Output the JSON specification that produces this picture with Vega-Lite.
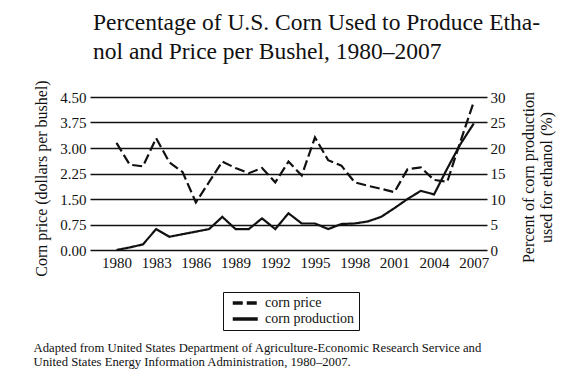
{
  "$schema": "https://vega.github.io/schema/vega-lite/v6.json",
  "width": 397,
  "height": 153,
  "autosize": {"type": "none"},
  "padding": {"left": 90, "top": 97, "right": 75, "bottom": 140},
  "background": "white",
  "title": {
    "text": ["Percentage of U.S. Corn Used to Produce Etha-", "nol and Price per Bushel, 1980–2007"],
    "anchor": "start",
    "frame": "group",
    "dx": 3,
    "offset": 16,
    "font": "Liberation Serif",
    "fontSize": 23.5,
    "fontWeight": "normal",
    "color": "#111111",
    "lineHeight": 29
  },
  "data": {
    "values": [
      {"year": 1980, "series": "corn price", "value": 3.15},
      {"year": 1981, "series": "corn price", "value": 2.51},
      {"year": 1982, "series": "corn price", "value": 2.46},
      {"year": 1983, "series": "corn price", "value": 3.29},
      {"year": 1984, "series": "corn price", "value": 2.58},
      {"year": 1985, "series": "corn price", "value": 2.29},
      {"year": 1986, "series": "corn price", "value": 1.40},
      {"year": 1987, "series": "corn price", "value": 2.00},
      {"year": 1988, "series": "corn price", "value": 2.60},
      {"year": 1989, "series": "corn price", "value": 2.41},
      {"year": 1990, "series": "corn price", "value": 2.26},
      {"year": 1991, "series": "corn price", "value": 2.41},
      {"year": 1992, "series": "corn price", "value": 1.99},
      {"year": 1993, "series": "corn price", "value": 2.60},
      {"year": 1994, "series": "corn price", "value": 2.19},
      {"year": 1995, "series": "corn price", "value": 3.31},
      {"year": 1996, "series": "corn price", "value": 2.64},
      {"year": 1997, "series": "corn price", "value": 2.48},
      {"year": 1998, "series": "corn price", "value": 1.99},
      {"year": 1999, "series": "corn price", "value": 1.89},
      {"year": 2000, "series": "corn price", "value": 1.80},
      {"year": 2001, "series": "corn price", "value": 1.70},
      {"year": 2002, "series": "corn price", "value": 2.38},
      {"year": 2003, "series": "corn price", "value": 2.43},
      {"year": 2004, "series": "corn price", "value": 2.06},
      {"year": 2005, "series": "corn price", "value": 2.01},
      {"year": 2006, "series": "corn price", "value": 3.20},
      {"year": 2007, "series": "corn price", "value": 4.36},
      {"year": 1980, "series": "corn production", "value": 0.0},
      {"year": 1981, "series": "corn production", "value": 0.5},
      {"year": 1982, "series": "corn production", "value": 1.1},
      {"year": 1983, "series": "corn production", "value": 4.1},
      {"year": 1984, "series": "corn production", "value": 2.6},
      {"year": 1985, "series": "corn production", "value": 3.1},
      {"year": 1986, "series": "corn production", "value": 3.6},
      {"year": 1987, "series": "corn production", "value": 4.1},
      {"year": 1988, "series": "corn production", "value": 6.5},
      {"year": 1989, "series": "corn production", "value": 4.1},
      {"year": 1990, "series": "corn production", "value": 4.1},
      {"year": 1991, "series": "corn production", "value": 6.2},
      {"year": 1992, "series": "corn production", "value": 4.1},
      {"year": 1993, "series": "corn production", "value": 7.2},
      {"year": 1994, "series": "corn production", "value": 5.2},
      {"year": 1995, "series": "corn production", "value": 5.2},
      {"year": 1996, "series": "corn production", "value": 4.1},
      {"year": 1997, "series": "corn production", "value": 5.1},
      {"year": 1998, "series": "corn production", "value": 5.2},
      {"year": 1999, "series": "corn production", "value": 5.6},
      {"year": 2000, "series": "corn production", "value": 6.5},
      {"year": 2001, "series": "corn production", "value": 8.2},
      {"year": 2002, "series": "corn production", "value": 10.0},
      {"year": 2003, "series": "corn production", "value": 11.6},
      {"year": 2004, "series": "corn production", "value": 10.9},
      {"year": 2005, "series": "corn production", "value": 16.0},
      {"year": 2006, "series": "corn production", "value": 20.8},
      {"year": 2007, "series": "corn production", "value": 24.8}
    ]
  },
  "encoding": {
    "x": {
      "field": "year",
      "type": "quantitative",
      "scale": {"domain": [1978, 2008], "nice": false, "zero": false},
      "axis": {
        "values": [1980, 1983, 1986, 1989, 1992, 1995, 1998, 2001, 2004, 2007],
        "format": "d",
        "grid": false,
        "domain": false,
        "ticks": false,
        "labelPadding": 5,
        "labelFont": "Liberation Serif",
        "labelFontSize": 15,
        "labelColor": "#111111",
        "labelFlush": false,
        "labelOverlap": false,
        "title": ["Adapted from United States Department of Agriculture-Economic Research Service and", "United States Energy Information Administration, 1980–2007."],
        "titleFont": "Liberation Serif",
        "titleFontSize": 12.7,
        "titleFontWeight": "normal",
        "titleColor": "#111111",
        "titleAlign": "left",
        "titleAnchor": "start",
        "titleBaseline": "top",
        "titleX": -57,
        "titleY": 91,
        "titleLineHeight": 14
      }
    },
    "strokeDash": {
      "field": "series",
      "type": "nominal",
      "scale": {"domain": ["corn price", "corn production"], "range": [[10, 4], [1, 0]]},
      "legend": {
        "title": null,
        "orient": "none",
        "legendX": 133,
        "legendY": 195,
        "strokeColor": "#111111",
        "padding": 4,
        "rowPadding": 2,
        "labelFont": "Liberation Serif",
        "labelFontSize": 14,
        "labelColor": "#111111",
        "labelOffset": 24,
        "symbolType": "M-0.5,0H9.5",
        "symbolSize": 25,
        "symbolStrokeWidth": 3.5,
        "symbolStrokeColor": "#111111"
      }
    }
  },
  "layer": [
    {
      "transform": [{"filter": "datum.series === 'corn price'"}],
      "mark": {"type": "line", "color": "#111111", "strokeWidth": 2.2},
      "encoding": {
        "y": {
          "field": "value",
          "type": "quantitative",
          "scale": {"domain": [0, 4.5], "nice": false},
          "axis": {
            "orient": "left",
            "values": [0, 0.75, 1.5, 2.25, 3, 3.75, 4.5],
            "format": ".2f",
            "grid": true,
            "gridColor": "#111111",
            "gridWidth": 1.3,
            "gridOpacity": 1,
            "domain": false,
            "ticks": false,
            "labelPadding": 4,
            "labelFont": "Liberation Serif",
            "labelFontSize": 15,
            "labelColor": "#111111",
            "title": "Corn price (dollars per bushel)",
            "titleFont": "Liberation Serif",
            "titleFontSize": 16,
            "titleFontWeight": "normal",
            "titleColor": "#111111",
            "titleAngle": -90,
            "titleBaseline": "middle",
            "titleAlign": "center",
            "titleX": -49,
            "titleY": 81
          }
        }
      }
    },
    {
      "transform": [{"filter": "datum.series === 'corn production'"}],
      "mark": {"type": "line", "color": "#111111", "strokeWidth": 2.2},
      "encoding": {
        "y": {
          "field": "value",
          "type": "quantitative",
          "scale": {"domain": [0, 30], "nice": false},
          "axis": {
            "orient": "right",
            "values": [0, 5, 10, 15, 20, 25, 30],
            "grid": false,
            "domain": false,
            "ticks": false,
            "labelPadding": 3,
            "labelFont": "Liberation Serif",
            "labelFontSize": 15,
            "labelColor": "#111111",
            "title": ["Percent of corn production", "used for ethanol (%)"],
            "titleFont": "Liberation Serif",
            "titleFontSize": 16,
            "titleFontWeight": "normal",
            "titleColor": "#111111",
            "titleAngle": -90,
            "titleBaseline": "middle",
            "titleAlign": "center",
            "titleLineHeight": 18,
            "titleX": 41,
            "titleY": 80
          }
        }
      }
    }
  ],
  "resolve": {"scale": {"y": "independent"}},
  "config": {"view": {"stroke": null}, "legend": {"strokeWidth": 1}}
}
